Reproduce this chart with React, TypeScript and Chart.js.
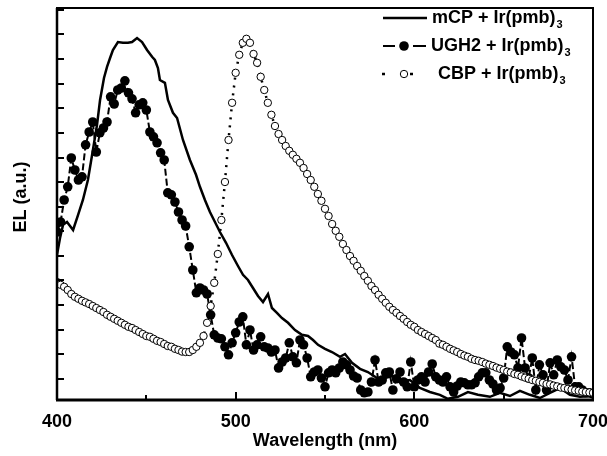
import React, { useEffect, useRef } from 'react';
import { Chart, registerables } from 'chart.js';

Chart.register(...registerables);

const FONT = '"Liberation Sans", Arial, Helvetica, sans-serif';

// Wavelength grid (nm) for the UGH2 and CBP spectra
const wavelengths = [
  400, 402, 404, 406, 408, 410, 412, 414, 416, 418,
  420, 422, 424, 426, 428, 430, 432, 434, 436, 438,
  440, 442, 444, 446, 448, 450, 452, 454, 456, 458,
  460, 462, 464, 466, 468, 470, 472, 474, 476, 478,
  480, 482, 484, 486, 488, 490, 492, 494, 496, 498,
  500, 502, 504, 506, 508, 510, 512, 514, 516, 518,
  520, 522, 524, 526, 528, 530, 532, 534, 536, 538,
  540, 542, 544, 546, 548, 550, 552, 554, 556, 558,
  560, 562, 564, 566, 568, 570, 572, 574, 576, 578,
  580, 582, 584, 586, 588, 590, 592, 594, 596, 598,
  600, 602, 604, 606, 608, 610, 612, 614, 616, 618,
  620, 622, 624, 626, 628, 630, 632, 634, 636, 638,
  640, 642, 644, 646, 648, 650, 652, 654, 656, 658,
  660, 662, 664, 666, 668, 670, 672, 674, 676, 678,
  680, 682, 684, 686, 688, 690, 692, 694, 696, 698,
  700,
];

const ugh2Values = [
  42, 44.5, 50, 53.3, 60.5, 57.5, 55, 55.8, 63.8, 67,
  69.5, 62, 66.8, 68, 69.5, 75.8, 74, 77.5, 78, 79.8,
  76.8, 75.3, 71.8, 73.8, 74.3, 72.5, 67, 65.8, 64.3, 61.8,
  60, 51.8, 51.3, 49.5, 47, 45, 43.5, 38.3, 32.5, 26.8,
  28, 27.5, 26.5, 21.3, 16.3, 15.5, 15.3, 13.3, 11.3, 14.3,
  16.8, 19.5, 20.8, 13.8, 17.5, 12.5, 13.8, 15.8, 13.3, 13,
  12, 12.5, 8, 9.5, 10.5, 14.3, 10.8, 9.3, 15, 13.8,
  10.5, 5.8, 7, 7.5, 5.5, 3.3, 6.8, 7.5, 6.8, 8,
  9.5, 8.8, 7.5, 6, 5.5, 2.5, 1.8, 2, 4.5, 10,
  4.5, 5, 6.8, 7, 2.5, 5.3, 7, 4.5, 3.3, 9.5,
  3.3, 5, 5.8, 4.5, 7, 9, 5.8, 5, 4.5, 5.8,
  3.3, 2, 3.5, 4.5, 4.3, 3.8, 3.8, 4.3, 5.8, 6.8,
  6.8, 5, 4, 2.5, 3, 5.5, 13.3, 12, 11.3, 8,
  15.5, 8, 5.5, 10.5, 2.5, 8.8, 6.3, 2.5, 9.3, 6.3,
  10, 8.3, 7.5, 5, 10.8, 3.3, 3.3, 2.5, 1.8, 1.8,
  1.5,
];

const cbpValues = [
  29.5, 28.8, 28.3, 27.5, 26.5, 25.8, 25.3, 24.8, 24.4, 24.0,
  23.5, 23.0, 22.5, 22.0, 21.3, 20.8, 20.3, 19.8, 19.3, 18.8,
  18.3, 18.0, 17.5, 17.0, 16.5, 16.0, 15.8, 15.3, 14.8, 14.5,
  14.0, 13.5, 13.3, 12.8, 12.5, 12.1, 12.0, 12.0, 12.5, 13.3,
  14.3, 16.0, 19.3, 23.5, 29.3, 36.5, 45, 54.5, 65, 74.3,
  81.8, 86.3, 89.3, 90.3, 89.3, 86.5, 84.3, 80.8, 77.5, 74.3,
  71.3, 68.5, 66.5, 65, 63.5, 62.3, 61.3, 60.3, 59.3, 58,
  56.5, 55, 53.3, 51.5, 49.8, 47.8, 46, 44, 42.3, 40.8,
  39, 37.5, 36, 34.8, 33.5, 32.3, 31, 29.8, 28.5, 27.5,
  26.3, 25.3, 24.3, 23.3, 22.5, 21.8, 21, 20.3, 19.5, 18.8,
  18.3, 17.5, 17, 16.5, 16, 15.5, 15, 14.1, 13.8, 13.3,
  12.8, 12.4, 12, 11.5, 11.1, 10.8, 10.3, 10, 9.8, 9.5,
  9.1, 8.8, 8.5, 8.1, 7.8, 7.5, 7.1, 6.9, 6.5, 6.3,
  5.9, 5.6, 5.3, 5, 4.8, 4.5, 4.3, 4, 3.9, 3.6,
  3.4, 3.1, 3, 2.8, 2.6, 2.4, 2.3, 2.1, 2, 1.9,
  1.8,
];

// mCP spectrum (solid line)
const mcpWavelengths = [
  400, 401.7, 403.4, 405.6, 407.3, 409, 411.8, 414.5, 417.3, 420.1, 422.4,
  424.1, 426.3, 428, 429.7, 431.3, 434.1, 436.9, 439.7, 442, 444.8,
  447.6, 450.4, 453.2, 454.8, 456.5, 457.6, 460.4, 462.1, 464.9, 467.2,
  470.5, 474.4, 477.8, 480, 482.8, 485.6, 488.4, 491.2, 494.6, 497.9,
  501.3, 504.1, 506.9, 509.7, 512.5, 515.3, 518.1, 520.3, 523.1, 525.9,
  529.3, 533.2, 537.1, 540.5, 543.3, 546.1, 550, 553.9, 558.4, 561.2,
  565.1, 569.6, 574, 579.1, 583.5, 588, 591.9, 597.5, 603.1, 608.7,
  614.3, 618.8, 624.4, 630, 635.6, 642.3, 647.9, 653.5, 659.1, 664.7,
  670.3, 675.9, 681.5, 687.1, 692.7, 700,
];
const mcpValues = [
  36.3, 40.5, 43.8, 44.5, 43.5, 42.5, 46.3, 50, 55, 62.5, 68.8,
  75, 80.5, 83.3, 85.5, 87.5, 89.5, 89.3, 89.3, 89.5, 90.5,
  89.5, 87.5, 85.8, 85, 83, 80, 79.3, 75, 71.8, 70.5,
  65, 60, 56.3, 53.3, 50, 47, 44.5, 42, 39.3, 36.3,
  33.5, 31.3, 30, 28, 26, 24.5, 26.5, 23, 21.8, 20.5,
  19.3, 17.5, 16.3, 16, 15, 13.8, 12.8, 12, 10.8, 11.5,
  9.3, 7.8, 7, 5.5, 5.5, 6, 4.5, 5, 3, 2,
  1.3, 0.3, 0.8, 2, 1.3, 0.8, 1.8, 1, 2.3, 1.3,
  0.5, 1.8, 3, 1.3, 0.8, 1,
];

const xTickValues = [400, 450, 500, 550, 600, 650, 700];
const xTickLabels = ['400', '', '500', '', '600', '', '700'];
const yTickValues = [5.3, 11.4, 17.6, 23.7, 29.9, 36.0, 42.2, 48.3, 54.5, 60.6, 66.8, 72.9, 79.1, 85.2, 91.4, 97.5];

const seriesNames = ['mCP + Ir(pmb)', 'UGH2 + Ir(pmb)', 'CBP + Ir(pmb)'];
const seriesSubscript = '3';
const xTitle = 'Wavelength (nm)';
const yTitle = 'EL (a.u.)';

const decorPlugin = {
  id: 'decor',
  afterDraw(chart: any) {
    const { ctx, chartArea: a, scales } = chart;
    const xs = scales.x;
    const ys = scales.y;
    ctx.save();
    ctx.strokeStyle = '#000';
    ctx.fillStyle = '#000';

    // inward ticks
    ctx.lineWidth = 2;
    yTickValues.forEach((v) => {
      const py = Math.round(ys.getPixelForValue(v));
      ctx.beginPath();
      ctx.moveTo(a.left, py);
      ctx.lineTo(a.left + 7, py);
      ctx.stroke();
    });
    xTickValues.forEach((v, i) => {
      const px = Math.round(xs.getPixelForValue(v));
      const len = xTickLabels[i] ? 8 : 5;
      ctx.beginPath();
      ctx.moveTo(px, a.bottom);
      ctx.lineTo(px, a.bottom - len);
      ctx.stroke();
    });

    // frame
    ctx.lineWidth = 2;
    ctx.strokeRect(a.left, a.top, a.right - a.left, a.bottom - a.top);
    ctx.lineWidth = 3;
    ctx.beginPath();
    ctx.moveTo(a.left - 1, a.bottom);
    ctx.lineTo(a.right + 1, a.bottom);
    ctx.stroke();
    ctx.lineWidth = 2.5;
    ctx.beginPath();
    ctx.moveTo(a.left, a.top);
    ctx.lineTo(a.left, a.bottom);
    ctx.stroke();

    // axis titles
    ctx.font = `bold 18px ${FONT}`;
    ctx.textAlign = 'center';
    ctx.textBaseline = 'middle';
    ctx.fillText(xTitle, 325, 441);
    ctx.save();
    ctx.translate(21, 197);
    ctx.rotate(-Math.PI / 2);
    ctx.fillText(yTitle, 0, 0);
    ctx.restore();

    // legend
    const rows = [18, 46, 74];
    const textX = [432, 431, 438];
    ctx.lineCap = 'butt';
    // row 1: solid
    ctx.lineWidth = 2.5;
    ctx.beginPath();
    ctx.moveTo(383, rows[0]);
    ctx.lineTo(427, rows[0]);
    ctx.stroke();
    // row 2: dash - dot - dash
    ctx.lineWidth = 2;
    ctx.beginPath();
    ctx.moveTo(383, rows[1]);
    ctx.lineTo(395, rows[1]);
    ctx.moveTo(413, rows[1]);
    ctx.lineTo(426, rows[1]);
    ctx.stroke();
    ctx.beginPath();
    ctx.arc(404, rows[1], 4.8, 0, Math.PI * 2);
    ctx.fill();
    // row 3: dot - circle - dot
    ctx.lineWidth = 2.5;
    ctx.beginPath();
    ctx.moveTo(382, rows[2]);
    ctx.lineTo(385, rows[2]);
    ctx.moveTo(410, rows[2]);
    ctx.lineTo(413, rows[2]);
    ctx.stroke();
    ctx.lineWidth = 1;
    ctx.beginPath();
    ctx.arc(404, rows[2], 3.7, 0, Math.PI * 2);
    ctx.fillStyle = '#fff';
    ctx.fill();
    ctx.stroke();
    ctx.fillStyle = '#000';

    ctx.textAlign = 'left';
    seriesNames.forEach((name, i) => {
      ctx.font = `bold 18px ${FONT}`;
      ctx.textBaseline = 'middle';
      ctx.fillText(name, textX[i], rows[i]);
      const w = ctx.measureText(name).width;
      ctx.font = `bold 11px ${FONT}`;
      ctx.fillText(seriesSubscript, textX[i] + w + 1, rows[i] + 7);
    });

    ctx.restore();
  },
};

export default function App() {
  const canvasRef = useRef<HTMLCanvasElement | null>(null);

  useEffect(() => {
    const canvas = canvasRef.current;
    if (!canvas) return;
    const chart = new Chart(canvas, {
      type: 'line',
      data: {
        datasets: [
          {
            label: seriesNames[0],
            data: mcpWavelengths.map((w, i) => ({ x: w, y: mcpValues[i] })),
            borderColor: '#000',
            borderWidth: 2.5,
            pointRadius: 0,
            fill: false,
            tension: 0,
            order: 1,
            clip: 0,
          },
          {
            label: seriesNames[1],
            data: wavelengths.map((w, i) => ({ x: w, y: ugh2Values[i] })),
            borderColor: '#000',
            borderWidth: 2,
            borderDash: [7, 3],
            pointRadius: 4.8,
            pointBackgroundColor: '#000',
            pointBorderColor: '#000',
            pointBorderWidth: 0,
            fill: false,
            tension: 0,
            order: 2,
            clip: 0,
          },
          {
            label: seriesNames[2],
            data: wavelengths.map((w, i) => ({ x: w, y: cbpValues[i] })),
            borderColor: '#000',
            borderWidth: 2.5,
            borderDash: [2, 6],
            pointRadius: 3.7,
            pointBackgroundColor: '#fff',
            pointBorderColor: '#000',
            pointBorderWidth: 1,
            fill: false,
            tension: 0,
            order: 0,
            clip: 0,
          },
        ] as any,
      },
      options: {
        animation: false,
        responsive: false,
        events: [],
        layout: { padding: { top: 8, right: 14, left: 0, bottom: 0 } },
        plugins: {
          legend: { display: false },
          tooltip: { enabled: false },
          title: { display: false },
        },
        scales: {
          x: {
            type: 'linear',
            min: 400,
            max: 700,
            afterBuildTicks: (s: any) => {
              s.ticks = xTickValues.map((v) => ({ value: v }));
            },
            afterFit: (s: any) => {
              s.height = 56;
              s.paddingLeft = 0;
              s.paddingRight = 0;
            },
            grid: { display: false, drawTicks: false },
            border: { display: false },
            ticks: {
              color: '#000',
              font: { family: FONT, size: 18, weight: 'bold' },
              padding: 11,
              maxRotation: 0,
              autoSkip: false,
              callback: (v: any) => {
                const idx = xTickValues.indexOf(Number(v));
                return idx >= 0 ? xTickLabels[idx] : '';
              },
            },
          },
          y: {
            type: 'linear',
            min: 0,
            max: 98,
            afterBuildTicks: (s: any) => {
              s.ticks = yTickValues.map((v) => ({ value: v }));
            },
            afterFit: (s: any) => {
              s.width = 57;
              s.paddingTop = 0;
              s.paddingBottom = 0;
            },
            grid: { display: false, drawTicks: false },
            border: { display: false },
            ticks: { display: false },
          },
        },
      } as any,
      plugins: [decorPlugin],
    });
    return () => chart.destroy();
  }, []);

  return (
    <div style={{ position: 'absolute', left: 0, top: 0, width: 607, height: 456, background: '#fff' }}>
      <canvas ref={canvasRef} width={607} height={456} style={{ display: 'block' }} />
    </div>
  );
}
